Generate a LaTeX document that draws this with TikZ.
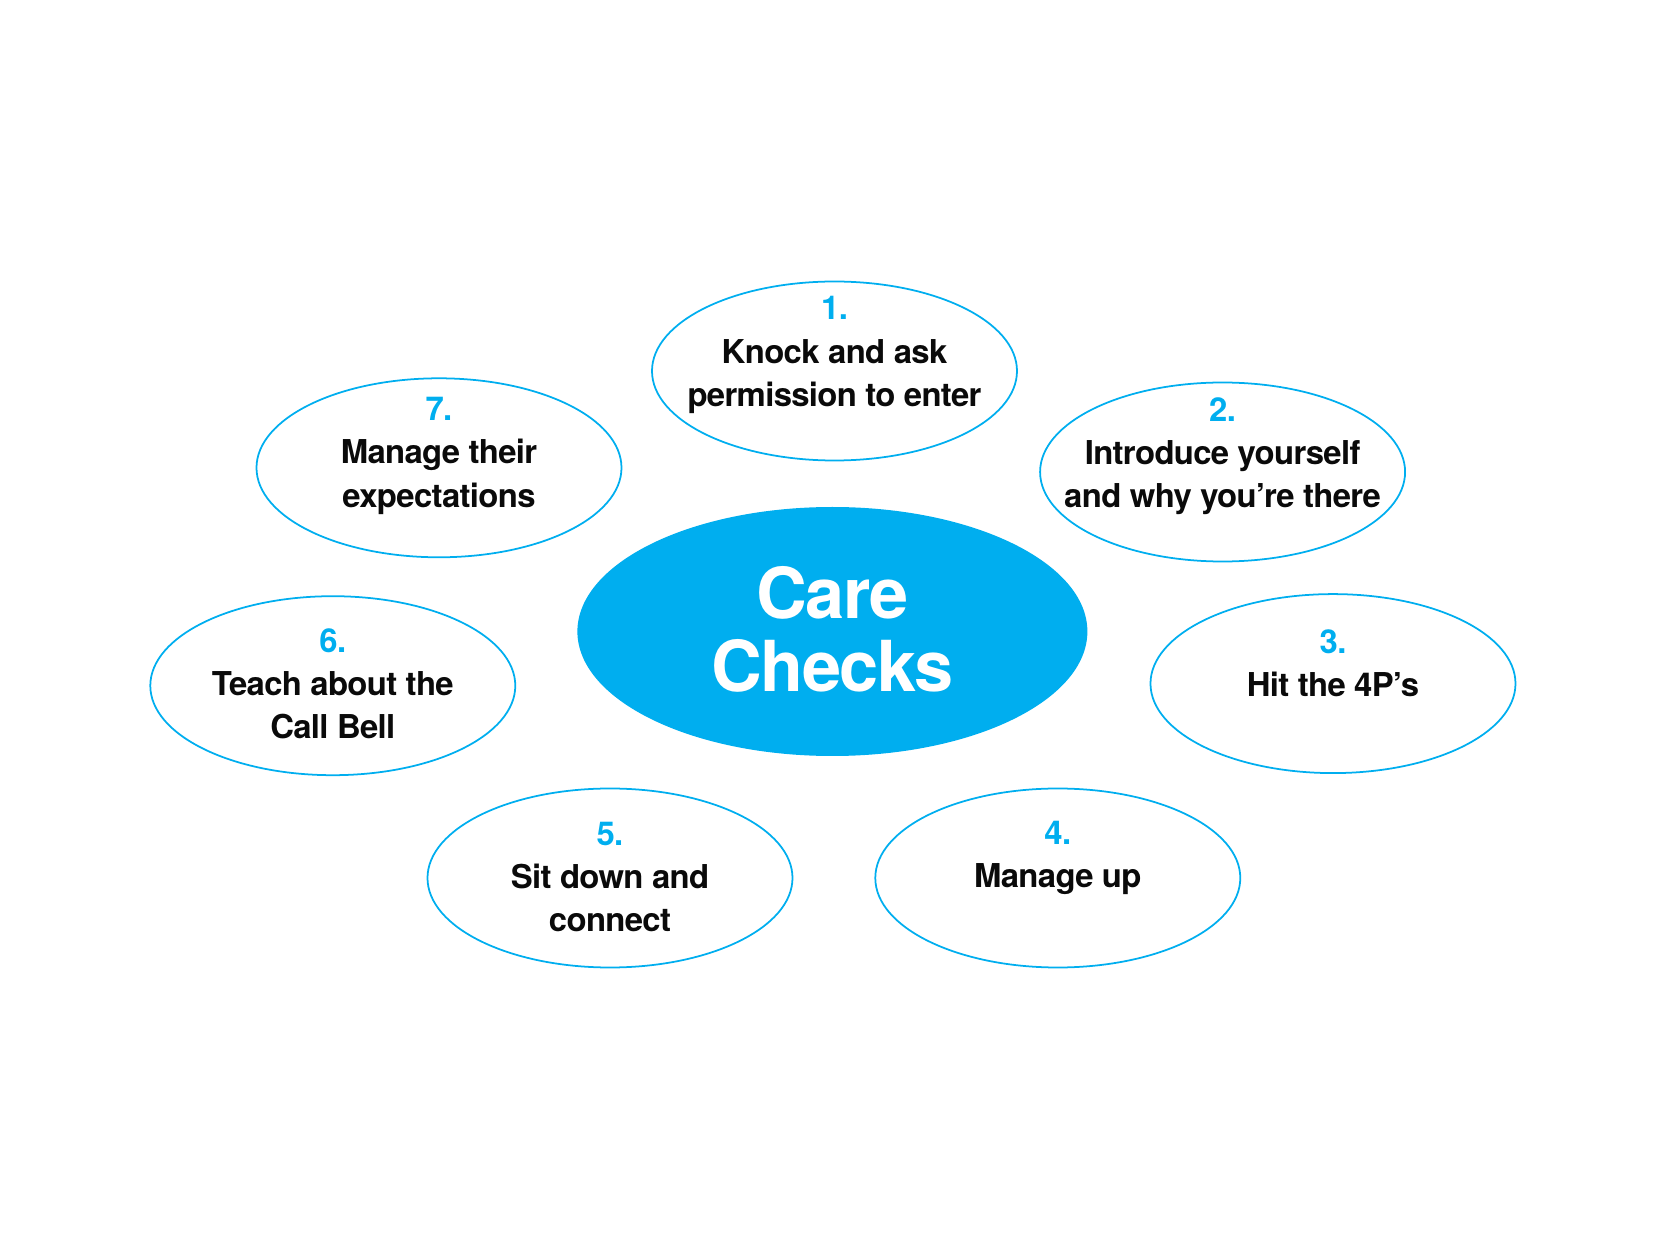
\documentclass[tikz,border=0pt]{standalone}
\usepackage{fontspec}
\setmainfont{TeX Gyre Heros}[LetterSpace=-2]
\usetikzlibrary{shapes.geometric,positioning}
\definecolor{careBlue}{RGB}{0,174,239}
\definecolor{careInk}{RGB}{10,10,10}

\begin{document}
\begin{tikzpicture}[
    stepring/.style={ellipse, draw=careBlue, line width=0.5pt, minimum width=3.65cm, minimum height=1.79cm, inner sep=0pt},
    steptext/.style={align=center, text=careInk, font=\fontsize{9.35}{12.3}\selectfont\bfseries},
    corering/.style={ellipse, fill=careBlue, minimum width=5.1cm, minimum height=2.49cm, inner sep=0pt},
    coretext/.style={align=center, text=white, font=\fontsize{20}{20.8}\selectfont\bfseries}
]
    \useasboundingbox (0,0) rectangle (16.67,-12.5);

    % centre
    \node[corering] (core) at (8.324,-6.315) {};
    \node[coretext] (coreLabel) at ([yshift=0.2mm]core.center) {Care\\Checks};

    % the seven steps
    \node[stepring] (s1) at (8.345,-3.71) {};
    \node[steptext] (t1) at ([yshift=1.6mm]s1.center) {\textcolor{careBlue}{1.}\\Knock and ask\\permission to enter};

    \node[stepring] (s2) at (12.226,-4.72) {};
    \node[steptext] (t2) at ([yshift=1.6mm]s2.center) {\textcolor{careBlue}{2.}\\Introduce yourself\\and why you’re there};

    \node[stepring] (s3) at (13.33,-6.836) {};
    \node[steptext] (t3) at ([yshift=2mm]s3.center) {\textcolor{careBlue}{3.}\\Hit the 4P’s};

    \node[stepring] (s4) at (10.578,-8.78) {};
    \node[steptext] (t4) at ([yshift=2mm]s4.center) {\textcolor{careBlue}{4.}\\Manage up};

    \node[stepring] (s5) at (6.10,-8.78) {};
    \node[steptext] (t5) at ([yshift=0.1mm]s5.center) {\textcolor{careBlue}{5.}\\Sit down and\\connect};

    \node[stepring] (s6) at (3.328,-6.857) {};
    \node[steptext] (t6) at ([yshift=0.2mm]s6.center) {\textcolor{careBlue}{6.}\\Teach about the\\Call Bell};

    \node[stepring] (s7) at (4.39,-4.678) {};
    \node[steptext] (t7) at ([yshift=1.2mm]s7.center) {\textcolor{careBlue}{7.}\\Manage their\\expectations};
\end{tikzpicture}
\end{document}
